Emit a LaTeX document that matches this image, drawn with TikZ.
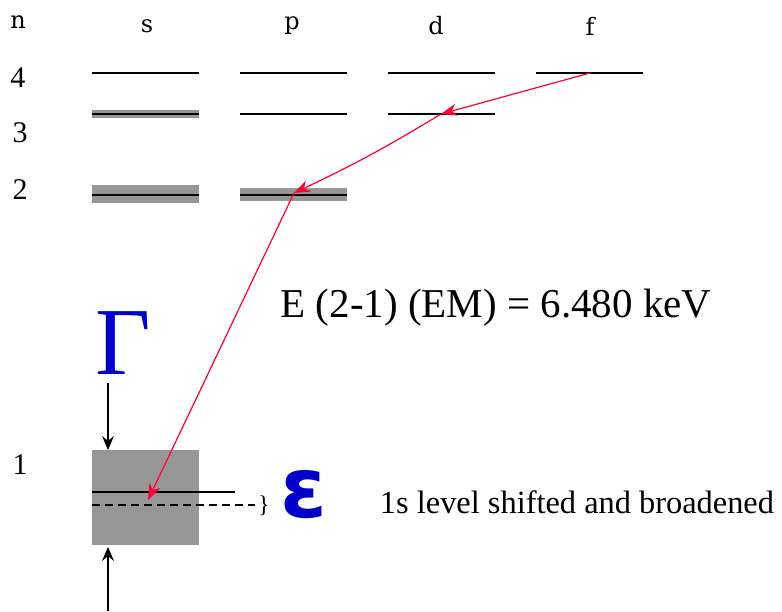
\documentclass[tikz,border=0pt]{standalone}
\usepackage{fontspec}
\setmainfont{Liberation Serif}
\newfontfamily\labelfont{DejaVu Serif}
\newfontfamily\epsfont{DejaVu Sans}
\usetikzlibrary{arrows.meta,positioning}
\definecolor{transred}{RGB}{255,0,51}
\definecolor{bandgray}{RGB}{150,150,150}
\definecolor{symblue}{RGB}{0,0,200}
\begin{document}
\begin{tikzpicture}[x=0.5pt,y=-0.5pt,
  level/.style={line width=0.8pt},
  band/.style={fill=bandgray, draw=none},
  trans/.style={transred, line width=0.6pt, -{Stealth[length=8pt,width=6pt,inset=2.5pt]}},
  widtharrow/.style={black, line width=0.6pt, -{Stealth[length=7pt,width=6pt,inset=2.5pt]}},
  collabel/.style={font=\labelfont\fontsize{12pt}{12pt}\selectfont},
  rowlabel/.style={font=\fontsize{15pt}{15pt}\selectfont}]
\useasboundingbox (0,0) rectangle (782,611);
\node[collabel] (nlab) at (18,22) {n};
\node[collabel] (slab) at (147,26) {s};
\node[collabel] (plab) at (292,26) {p};
\node[collabel] (dlab) at (436,26) {d};
\node[collabel] (flab) at (590,26) {f};
\node[rowlabel] (row4) at (18,78) {4};
\node[rowlabel] (row3) at (20,133) {3};
\node[rowlabel] (row2) at (20,190) {2};
\node[rowlabel] (row1) at (20,465) {1};
\fill[band] (92,110) rectangle (199,118);
\fill[band] (92,185) rectangle (199,203);
\fill[band] (240,188) rectangle (347,201);
\foreach \xs in {92,240,388,536}
  \draw[level] (\xs,73) -- ++(107,0);
\foreach \xs in {92,240,388}
  \draw[level] (\xs,114) -- ++(107,0);
\draw[level] (92,195) -- ++(107,0);
\draw[level] (240,195) -- ++(107,0);
\node[band, anchor=north west, minimum width=53.5pt, minimum height=47.5pt, inner sep=0pt] (onebox) at (92,450) {};
\draw[level] (92,492) -- (235,492);
\draw[level, dash pattern=on 4pt off 2.5pt] (92,505) -- (255,505);
\node[font=\fontsize{12pt}{12pt}\selectfont] (brace) at (264,506) {\}};
\node[symblue, font=\epsfont\bfseries\fontsize{42pt}{42pt}\selectfont] (eps) at (304,495) {ε};
\node[symblue, font=\fontsize{48pt}{48pt}\selectfont] (Gamma) at (123,343) {Γ};
\coordinate (gtail) at (108,383);
\coordinate (gfoot) at (108,450);
\coordinate (btail) at (108,611);
\coordinate (bhead) at (108,547);
\draw[widtharrow] (gtail) -- (gfoot);
\draw[widtharrow] (btail) -- (bhead);
\coordinate (f4) at (590,73);
\coordinate (d3) at (441,114);
\coordinate (p2) at (294,193);
\coordinate (s1) at (148,500);
\draw[trans] (f4) -- (d3);
\draw[trans] (d3) to[bend left=3] (p2);
\draw[trans] (p2) -- (s1);
\node[font=\fontsize{20.5pt}{20.5pt}\selectfont] (energy) at (496,308) {E (2-1) (EM) = 6.480 keV};
\node[font=\fontsize{16.2pt}{16.2pt}\selectfont] (shiftlab) at (577,502) {1s level shifted and broadened};
\end{tikzpicture}
\end{document}
